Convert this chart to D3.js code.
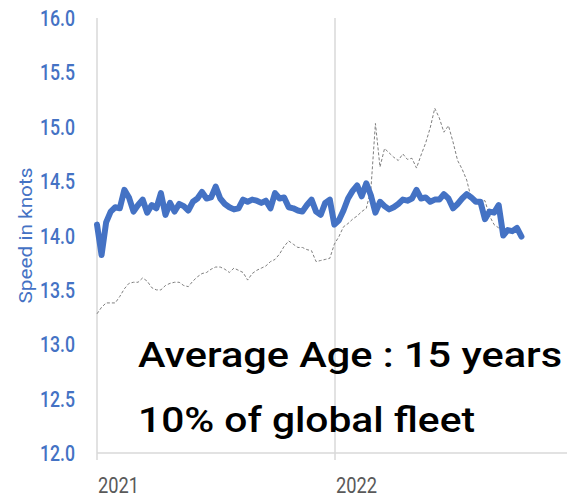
<!DOCTYPE html>
<html>
<head>
<meta charset="utf-8">
<script src="https://cdn.jsdelivr.net/npm/d3@7"></script>
<style>
  body { margin: 0; background: #fff; }
  svg { display: block; }
</style>
</head>
<body>
<svg id="chart" width="567" height="498"></svg>
<script>
// weekly average speed, knots (first point = first week of 2021)
var speed = [14.10, 13.82, 14.12, 14.22, 14.26, 14.25, 14.42, 14.35, 14.22, 14.28,
  14.33, 14.21, 14.28, 14.25, 14.39, 14.19, 14.30, 14.22, 14.29, 14.27,
  14.23, 14.31, 14.34, 14.40, 14.34, 14.35, 14.45, 14.34, 14.29, 14.26,
  14.24, 14.25, 14.33, 14.31, 14.33, 14.32, 14.30, 14.32, 14.25, 14.39,
  14.34, 14.35, 14.26, 14.25, 14.23, 14.22, 14.28, 14.33, 14.22, 14.19,
  14.30, 14.33, 14.10, 14.14, 14.23, 14.34, 14.41, 14.46, 14.36, 14.48,
  14.37, 14.21, 14.31, 14.27, 14.24, 14.26, 14.29, 14.33, 14.32, 14.34,
  14.42, 14.34, 14.35, 14.31, 14.33, 14.33, 14.38, 14.34, 14.25, 14.29,
  14.34, 14.38, 14.35, 14.31, 14.31, 14.15, 14.22, 14.21, 14.28, 14.00,
  14.05, 14.04, 14.07, 13.99];
// dotted reference series
var reference = [13.28, 13.34, 13.38, 13.38, 13.38, 13.44, 13.51, 13.56, 13.57, 13.57,
  13.61, 13.58, 13.52, 13.50, 13.50, 13.54, 13.56, 13.57, 13.57, 13.54,
  13.53, 13.58, 13.62, 13.65, 13.66, 13.69, 13.71, 13.71, 13.69, 13.66,
  13.70, 13.68, 13.66, 13.59, 13.65, 13.68, 13.70, 13.72, 13.76, 13.78,
  13.83, 13.90, 13.95, 13.92, 13.89, 13.89, 13.87, 13.86, 13.76, 13.77,
  13.78, 13.79, 13.92, 13.99, 14.08, 14.11, 14.15, 14.18, 14.22, 14.25,
  14.42, 15.03, 14.63, 14.80, 14.76, 14.72, 14.69, 14.75, 14.70, 14.71,
  14.62, 14.74, 14.85, 14.99, 15.17, 15.08, 14.95, 15.01, 14.86, 14.69,
  14.61, 14.51, 14.34, 14.30, 14.32, 14.32, 14.18, 14.10, 14.07, 14.03];
var yTicks = [12, 12.5, 13, 13.5, 14, 14.5, 15, 15.5, 16];
var years = [2021, 2022];
var notes = ["Average Age : 15 years", "10% of global fleet"];

var startDate = new Date(2021, 0, 1);
function weekDate(i) { return d3.timeDay.offset(startDate, 7 * i); }

var svg = d3.select("#chart");
var x = d3.scaleTime().domain([new Date(2021, 0, 1), new Date(2022, 0, 1)]).range([97, 335]);
var y = d3.scaleLinear().domain([12, 16]).range([453, 18]);

var blue = "#4472C4";
var grid = "#d9d9d9";

// vertical lines at each year
svg.selectAll("line.year")
  .data(years)
  .enter().append("line")
  .attr("class", "year")
  .attr("x1", d => x(new Date(d, 0, 1)))
  .attr("x2", d => x(new Date(d, 0, 1)))
  .attr("y1", y(16))
  .attr("y2", y(12) + 7)
  .attr("stroke", grid)
  .attr("stroke-width", 1.5);

// horizontal axis line
svg.append("line")
  .attr("x1", x(new Date(2021, 0, 1))).attr("x2", 567)
  .attr("y1", y(12)).attr("y2", y(12))
  .attr("stroke", grid).attr("stroke-width", 1.5);

// y tick labels
svg.selectAll("text.ytick")
  .data(yTicks)
  .enter().append("text")
  .attr("class", "ytick")
  .attr("x", 75)
  .attr("y", d => y(d) + 8)
  .attr("text-anchor", "end")
  .attr("fill", blue)
  .attr("font-family", "Roboto, sans-serif")
  .attr("font-weight", 500)
  .attr("font-size", "22px")
  .attr("textLength", 35)
  .attr("lengthAdjust", "spacingAndGlyphs")
  .text(d => d.toFixed(1));

// axis title
svg.append("text")
  .attr("transform", "translate(32," + y(14) + ") rotate(-90)")
  .attr("text-anchor", "middle")
  .attr("fill", blue)
  .attr("font-family", "Roboto, sans-serif")
  .attr("font-size", "19px")
  .attr("textLength", 136)
  .attr("lengthAdjust", "spacingAndGlyphs")
  .text("Speed in knots");

// year labels
svg.selectAll("text.xtick")
  .data(years)
  .enter().append("text")
  .attr("class", "xtick")
  .attr("x", d => x(new Date(d, 0, 1)) + 1)
  .attr("y", 493)
  .attr("fill", "#595959")
  .attr("font-family", "Roboto, sans-serif")
  .attr("font-size", "22px")
  .attr("textLength", 41)
  .attr("lengthAdjust", "spacingAndGlyphs")
  .text(d => d);

// dotted series
var line = d3.line()
  .x((d, i) => x(weekDate(i)))
  .y(d => y(d));

svg.append("path")
  .datum(reference)
  .attr("d", line)
  .attr("fill", "none")
  .attr("stroke", "#7f7f7f")
  .attr("stroke-width", 1)
  .attr("stroke-dasharray", "3,2");

svg.append("path")
  .datum(speed)
  .attr("d", line)
  .attr("fill", "none")
  .attr("stroke", blue)
  .attr("stroke-width", 6)
  .attr("stroke-linejoin", "round")
  .attr("stroke-linecap", "round");

// annotation
var widths = [424, 337];
svg.selectAll("text.note")
  .data(notes)
  .enter().append("text")
  .attr("class", "note")
  .attr("x", 138)
  .attr("y", (d, i) => 367 + i * 65)
  .attr("fill", "#000")
  .attr("font-family", "Roboto, sans-serif")
  .attr("font-weight", 500)
  .attr("font-size", "35px")
  .attr("textLength", (d, i) => widths[i])
  .attr("lengthAdjust", "spacingAndGlyphs")
  .text(d => d);
</script>
</body>
</html>
